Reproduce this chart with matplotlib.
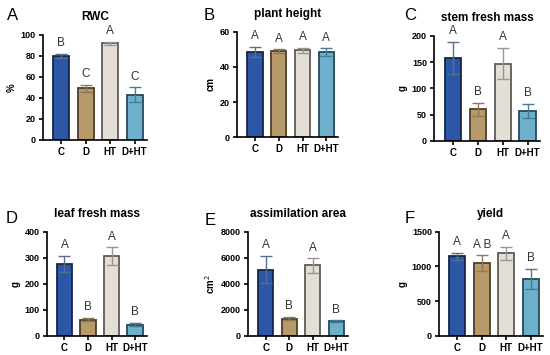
import numpy as np
import matplotlib.pyplot as plt

plt.rcParams['font.family'] = 'Liberation Sans'
plt.rcParams['axes.linewidth'] = 1.2

groups = ['C', 'D', 'HT', 'D+HT']
fills = ['#2b57a6', '#b8996a', '#e3ded6', '#6cb0cc']
edges = ['#16264a', '#4e3f2a', '#5f5b55', '#24485a']
errc = ['#5a6f90', '#8a7a60', '#9a958e', '#4a7a8e']

rwc = [80, 49, 92, 43]
rwc_err = [2, 3, 1.5, 7]
rwc_let = ['B', 'C', 'A', 'C']

height = [48.5, 49, 49.5, 48.5]
height_err = [3, 1, 1.3, 2.2]
height_let = ['A', 'A', 'A', 'A']

stem = [158, 60, 147, 57]
stem_err = [30, 13, 30, 14]
stem_let = ['A', 'B', 'A', 'B']

leaf = [277, 62, 307, 43]
leaf_err = [30, 6, 33, 7]
leaf_let = ['A', 'B', 'A', 'B']

area = [5100, 1330, 5420, 1150]
area_err = [1050, 150, 550, 50]
area_let = ['A', 'B', 'A', 'B']

yld = [1150, 1050, 1190, 820]
yld_err = [50, 110, 90, 150]
yld_let = ['A', 'A B', 'A', 'B']

# letter, title, ylabel, values, errors, sig letters, ymax, step, axes rect, panel-letter xy (fig frac)
panels = [
    ('A', 'RWC', '%', rwc, rwc_err, rwc_let, 100, 20, [0.078, 0.606, 0.189, 0.296], (0.022, 0.955)),
    ('B', 'plant height', 'cm', height, height_err, height_let, 60, 20, [0.431, 0.614, 0.184, 0.296], (0.38, 0.955)),
    ('C', 'stem fresh mass', 'g', stem, stem_err, stem_let, 200, 50, [0.789, 0.603, 0.193, 0.296], (0.745, 0.955)),
    ('D', 'leaf fresh mass', 'g', leaf, leaf_err, leaf_let, 400, 100, [0.085, 0.054, 0.182, 0.293], (0.022, 0.385)),
    ('E', 'assimilation area', 'cm$^2$', area, area_err, area_let, 8000, 2000, [0.451, 0.054, 0.182, 0.293], (0.382, 0.38)),
    ('F', 'yield', 'g', yld, yld_err, yld_let, 1500, 500, [0.798, 0.054, 0.189, 0.293], (0.745, 0.385)),
]

fig = plt.figure(figsize=(5.5, 3.55), dpi=100)
x = np.arange(len(groups))

for letter, title, ylab, vals, errs, lets, ymax, step, pos, lxy in panels:
    ax = fig.add_axes(pos)
    ax.bar(x, vals, width=0.65, color=fills, edgecolor=edges, linewidth=1.3, zorder=2)
    for i in range(len(x)):
        ax.errorbar(x[i], vals[i], yerr=errs[i], fmt='none', ecolor=errc[i],
                    elinewidth=1.0, capsize=4, capthick=1.0, zorder=3)
        ax.text(x[i], vals[i] + errs[i] + ymax * 0.045, lets[i], ha='center', va='bottom',
                fontsize=8.5, color='#333333')
    ax.set_xlim(-0.75, 3.5)
    ax.set_ylim(0, ymax)
    ax.set_yticks(np.arange(0, ymax + 1, step))
    ax.set_xticks(x)
    ax.set_xticklabels(groups, fontweight='bold', fontsize=7)
    for lab in ax.get_yticklabels():
        lab.set_fontweight('bold')
        lab.set_fontsize(6.5)
    ax.tick_params(axis='both', length=3, width=1.2, pad=2)
    ax.spines['top'].set_visible(False)
    ax.spines['right'].set_visible(False)
    ax.set_ylabel(ylab, fontweight='bold', fontsize=7, labelpad=3)
    ax.set_title(title, fontweight='bold', fontsize=8.5, pad=11)
    fig.text(lxy[0], lxy[1], letter, fontsize=12, ha='center', va='center')

fig.savefig('out.png', dpi=100)
